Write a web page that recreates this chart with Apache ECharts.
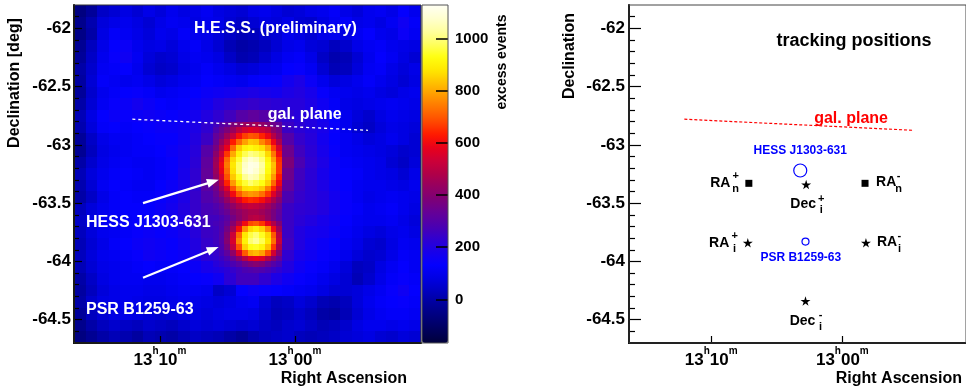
<!DOCTYPE html>
<html><head><meta charset="utf-8">
<script src="https://cdn.jsdelivr.net/npm/echarts@6/dist/echarts.min.js"></script>
<style>html,body{margin:0;padding:0;background:#fff}#c{width:966px;height:390px}</style>
</head><body><div id="c"></div>
<script>
// Right ascension is expressed in minutes relative to 13h00m (larger = further east / left)
const raEdges = [16.37, 15.51, 14.66, 13.80, 12.94, 12.09, 11.23, 10.37, 9.52, 8.66, 7.80, 6.95, 6.09, 5.23, 4.38, 3.52, 2.66, 1.81, 0.95, 0.09, -0.76, -1.62, -2.48, -3.33, -4.19, -5.05, -5.90, -6.76, -7.62, -8.47, -9.33];
const decEdges = [-61.8, -61.9, -62.0, -62.1, -62.2, -62.3, -62.4, -62.5, -62.6, -62.7, -62.8, -62.9, -63.0, -63.1, -63.2, -63.3, -63.4, -63.5, -63.6, -63.7, -63.8, -63.9, -64.0, -64.1, -64.2, -64.3, -64.4, -64.5, -64.6, -64.7];
// excess events per coarse cell, rows from top (north) to bottom, columns from left (east) to right
const excess = [
[-60,-20,40,60,80,60,90,70,100,80,90,110,80,70,60,90,100,80,60,70,90,100,120,90,70,100,110,90,130,100],
[-40,10,70,90,100,80,60,90,110,100,80,100,90,60,40,60,80,70,90,60,50,80,110,120,90,100,80,110,160,120],
[-50,0,80,120,110,90,70,100,90,120,100,90,70,40,20,30,50,60,100,80,60,90,100,80,110,130,100,90,150,110],
[-30,30,90,130,150,100,80,90,70,100,120,90,60,20,0,10,30,60,90,100,70,60,30,50,90,110,120,100,90,80],
[-20,40,100,140,160,110,70,50,60,90,110,100,80,40,10,20,50,80,110,120,90,40,10,20,60,100,130,110,80,60],
[0,50,110,120,130,100,60,40,50,80,100,120,100,80,60,70,90,100,130,140,110,60,20,30,70,110,120,90,70,90],
[-10,60,120,110,100,110,90,70,80,100,110,130,120,110,100,120,130,140,170,190,150,100,70,80,100,120,100,80,60,80],
[-20,50,100,120,130,140,120,100,110,120,130,150,160,170,180,190,180,170,190,200,180,140,110,100,90,100,80,70,90,100],
[0,60,110,140,150,170,150,130,120,130,150,170,200,220,230,240,230,220,210,210,190,160,120,90,80,90,100,110,100,90],
[20,80,130,150,140,150,160,150,140,150,170,200,230,260,300,320,300,260,230,210,200,170,130,100,70,50,80,100,90,80],
[10,70,120,130,120,130,140,150,150,160,190,230,280,400,480,500,460,350,250,220,200,180,140,100,60,40,70,90,80,70],
[-20,40,90,110,110,120,130,140,140,160,200,250,300,500,650,700,620,450,300,240,210,170,130,110,90,70,80,100,80,60],
[-30,30,80,100,110,120,120,130,150,170,210,300,450,750,900,950,880,600,350,260,220,180,140,110,100,90,80,70,50,60],
[0,50,90,110,120,110,110,120,140,170,220,320,520,850,1050,1080,950,650,380,280,230,190,150,120,110,100,90,60,40,70],
[20,70,100,120,130,120,110,120,140,180,230,330,550,880,1100,1050,900,600,350,260,220,180,150,130,120,100,90,80,60,90],
[10,60,110,130,120,110,110,130,150,180,230,310,450,750,900,880,720,500,320,250,220,190,160,130,110,100,100,90,80,100],
[0,40,90,120,130,120,120,140,160,190,240,290,350,500,620,600,500,380,280,240,220,200,170,140,110,90,100,110,100,90],
[30,70,100,120,130,130,130,150,170,200,240,270,280,380,430,450,400,300,250,230,220,200,170,140,120,100,110,120,100,80],
[40,80,110,110,120,130,140,150,160,190,230,260,300,420,520,560,480,320,250,220,200,180,160,130,110,100,100,110,90,70],
[30,70,100,110,120,140,150,140,150,170,210,250,300,500,800,900,780,400,250,200,180,170,150,120,100,80,70,90,100,80],
[20,60,90,120,130,150,160,150,140,160,200,240,320,550,900,1000,850,430,260,200,170,150,130,110,90,60,50,80,110,100],
[30,70,100,110,120,140,160,150,140,150,180,220,280,420,650,720,600,350,230,180,160,140,120,100,70,50,60,90,120,110],
[20,60,90,100,110,120,130,120,120,130,150,180,220,300,380,400,350,260,200,160,140,120,100,70,30,40,80,110,130,110],
[0,40,80,100,110,110,100,100,110,120,130,140,160,220,260,260,230,190,160,140,120,100,80,60,20,50,90,120,140,120],
[-10,30,70,90,100,100,90,90,100,110,110,100,40,60,130,150,140,130,120,110,100,80,60,60,70,90,110,140,160,130],
[0,50,80,90,100,90,80,80,90,100,90,80,70,80,100,110,60,30,40,70,50,20,10,30,70,100,120,130,140,120],
[-20,30,60,80,90,80,70,60,70,80,80,70,80,90,90,80,50,20,30,50,30,0,-10,20,60,90,110,120,120,110],
[-40,0,30,50,40,30,50,40,30,50,70,60,70,60,50,60,40,30,50,60,40,20,30,50,80,100,100,90,100,90],
[-60,-30,0,20,10,-10,20,10,0,20,40,30,20,0,-20,10,30,40,50,30,20,30,40,60,70,80,60,50,70,60]
];
// finer bins over the two sources
const fineRaEdges = [6.09, 5.66, 5.23, 4.80, 4.38, 3.95, 3.52, 3.09, 2.66, 2.24, 1.81, 1.38, 0.95];
const fineDecEdges = [-62.80, -62.85, -62.90, -62.95, -63.00, -63.05, -63.10, -63.15, -63.20, -63.25, -63.30, -63.35, -63.40, -63.45, -63.50, -63.55, -63.60, -63.65, -63.70, -63.75, -63.80, -63.85, -63.90, -63.95, -64.00, -64.05, -64.10];
const fineExcess = [
[260,300,320,380,400,440,430,460,420,390,350,330],
[290,340,380,440,500,540,570,550,520,490,410,370],
[330,370,450,520,610,670,700,690,640,590,490,410],
[340,430,510,630,720,790,840,830,760,700,590,470],
[370,480,580,720,840,900,920,900,870,800,670,550],
[410,520,660,800,900,970,1010,990,960,860,740,600],
[440,570,720,860,950,1040,1080,1060,1000,910,790,650],
[450,590,740,880,980,1070,1110,1100,1030,930,830,660],
[440,580,720,870,980,1080,1110,1080,1020,920,820,660],
[420,540,690,840,940,1020,1060,1040,980,890,780,630],
[390,500,640,780,880,950,990,960,930,850,720,590],
[360,460,560,690,800,870,880,870,840,750,640,520],
[340,410,490,600,700,760,780,770,730,660,560,460],
[320,360,430,500,570,630,650,640,610,550,470,400],
[290,320,370,420,470,500,520,510,490,450,400,350],
[280,310,340,390,420,450,470,470,450,420,370,330],
[260,280,310,360,410,450,490,500,480,430,370,320],
[270,290,330,400,490,600,680,700,660,580,480,390],
[260,290,360,460,610,770,860,890,850,760,600,450],
[260,300,390,530,720,880,960,990,940,860,700,500],
[260,300,400,550,760,900,990,1020,970,880,730,520],
[250,290,370,510,690,850,930,940,910,830,660,470],
[240,270,320,420,560,700,800,820,790,690,540,400],
[230,250,280,340,410,490,560,580,560,480,400,330],
[210,230,250,280,310,350,380,400,380,340,300,270],
[190,200,220,240,260,280,290,300,290,270,250,230]
];
const colorTicks = [0, 200, 400, 600, 800, 1000];
const raTicks = [10, 0];
const raTickHour = ['13', '13'];
const raTickMin = ['10', '00'];
const decTicks = [-62, -62.5, -63, -63.5, -64, -64.5];
const decMinorTicks = [-61.9, -62.1, -62.2, -62.3, -62.4, -62.6, -62.7, -62.8, -62.9, -63.1, -63.2, -63.3, -63.4, -63.6, -63.7, -63.8, -63.9, -64.1, -64.2, -64.3, -64.4, -64.6];
const galPlaneRA = [12.05, -5.4];
const galPlaneDec = [-62.78, -62.875];
const galLabelLeft = [2.02, -62.74];
const galLabelRight = [2.15, -62.775];
const sourceNames = ['HESS J1303-631', 'PSR B1259-63'];
const sourceRA = [3.21, 2.81];
const sourceDec = [-63.22, -63.83];
const sourceLabelRA = [15.48, 15.48];
const sourceLabelDec = [-63.67, -64.41];
const arrowTailRA = [11.26, 11.26];
const arrowTailDec = [-63.50, -64.14];
const arrowHeadRA = [6.07, 6.07];
const arrowHeadDec = [-63.315, -63.895];
const trackMain = ['RA', 'RA', 'Dec', 'RA', 'RA', 'Dec'];
const trackSup = ['+', '-', '+', '+', '-', '-'];
const trackSub = ['n', 'n', 'i', 'i', 'i', 'i'];
const trackRA = [7.13, -1.73, 2.76, 7.21, -1.80, 2.81];
const trackDec = [-63.33, -63.33, -63.34, -63.84, -63.84, -64.34];
const trackKind = ['nominal', 'nominal', 'image', 'image', 'image', 'image'];

const FONT = '"Liberation Sans", Arial, Helvetica, sans-serif';
const palette = ['#00003a','#00005c','#00007c','#00009a','#0000c0','#0000e4','#0400ff','#1800ea','#3000d0','#4c00b0','#640098','#7c0078','#940062','#b00048','#cc0038','#e8001c','#ff1800','#ff4800','#ff7000','#ff9800','#ffc000','#ffe800','#ffff10','#ffff60','#ffffa0','#ffffd0','#fffff4'];
const STAR = 'path://M50,0 L61,35 L98,35 L68,57 L79,91 L50,70 L21,91 L32,57 L2,35 L39,35 Z';

const heatData = [];
function addCells(rows, xe, ye) {
  for (let i = 0; i < rows.length; i++) {
    for (let j = 0; j < rows[i].length; j++) {
      heatData.push([xe[j], xe[j + 1], ye[i], ye[i + 1], rows[i][j]]);
    }
  }
}
addCells(excess, raEdges, decEdges);
addCells(fineExcess, fineRaEdges, fineDecEdges);

function xAxisFor(gi, min, max) {
  return {
    gridIndex: gi, type: 'value', position: 'bottom', min: min, max: max, inverse: true, z: 8,
    axisLine: { show: true, onZero: false, lineStyle: { color: '#000', width: 2 } },
    axisTick: { show: true, inside: true, length: 7, customValues: raTicks, lineStyle: { color: '#000', width: 1.2 } },
    axisLabel: {
      customValues: raTicks, margin: 3,
      formatter: function (v) {
        const k = raTicks.indexOf(Math.round(v));
        if (k < 0) return '';
        return '{n|' + raTickHour[k] + '}{s|h}{n|' + raTickMin[k] + '}{s|m}';
      },
      rich: {
        n: { fontSize: 17, fontWeight: 'bold', fontFamily: FONT, color: '#000', lineHeight: 28, verticalAlign: 'middle' },
        s: { fontSize: 10, fontWeight: 'bold', fontFamily: FONT, color: '#000', lineHeight: 12, verticalAlign: 'top' }
      }
    },
    splitLine: { show: false }
  };
}
function yAxisFor(gi, tickLen, margin) {
  return {
    gridIndex: gi, type: 'value', position: 'left', min: -64.7, max: -61.8, z: 8,
    axisLine: { show: true, onZero: false, lineStyle: { color: '#000', width: 2 } },
    axisTick: { show: true, inside: true, length: tickLen, customValues: decTicks, lineStyle: { color: '#000', width: 1.2 } },
    axisLabel: { customValues: decTicks, margin: margin, fontSize: 17, fontWeight: 'bold', fontFamily: FONT, color: '#000', formatter: function (v) { return String(v); } },
    splitLine: { show: false }
  };
}
function yMinorFor(gi, tickLen) {
  return {
    gridIndex: gi, type: 'value', position: 'left', min: -64.7, max: -61.8, z: 8,
    axisLine: { show: false, onZero: false },
    axisTick: { show: true, inside: true, length: tickLen, customValues: decMinorTicks, lineStyle: { color: '#000', width: 1.2 } },
    axisLabel: { show: false },
    splitLine: { show: false }
  };
}

// tracking-position text pieces
const trackTextData = [];
for (let k = 0; k < trackMain.length; k++) {
  const isDec = trackMain[k] === 'Dec';
  const leftSide = !isDec && trackSup[k] === '+';
  const mainOff = isDec ? [-3, 20] : (leftSide ? [-18.5, 0] : [11, -1]);
  const mainAlign = isDec ? 'center' : (leftSide ? 'right' : 'left');
  const sx = isDec ? 15 : (leftSide ? -13.2 : 33.5);
  const supY = isDec ? 14 : -7;
  const subY = isDec ? 25.5 : 6;
  const base = [trackRA[k], trackDec[k]];
  trackTextData.push({ value: base, label: { formatter: trackMain[k], align: mainAlign, offset: mainOff, fontSize: 14 } });
  trackTextData.push({ value: base, label: { formatter: trackSup[k], align: 'center', offset: [sx, supY], fontSize: 11 } });
  trackTextData.push({ value: base, label: { formatter: trackSub[k], align: 'center', offset: [sx, subY], fontSize: 11 } });
}

const chart = echarts.init(document.getElementById('c'), null, { renderer: 'canvas' });
chart.setOption({
  animation: false,
  backgroundColor: '#fff',
  grid: [
    { left: 74, top: 5, width: 347, height: 338, show: true, z: 9, borderColor: '#333', borderWidth: 1, backgroundColor: 'transparent' },
    { left: 629, top: 5, width: 347, height: 338, show: true, z: 9, borderColor: '#444', borderWidth: 1, backgroundColor: 'transparent' },
    { left: 422, top: 5, width: 26, height: 338, show: true, z: 9, borderColor: '#555', borderWidth: 1, backgroundColor: 'transparent' },
    { left: 74, top: 5, width: 347, height: 338, show: false },
    { left: 629, top: 5, width: 347, height: 338, show: false }
  ],
  xAxis: [
    xAxisFor(0, -9.33, 16.37),
    xAxisFor(1, -9.43, 16.27),
    { gridIndex: 2, type: 'value', min: 0, max: 1, show: false },
    { gridIndex: 3, type: 'value', min: 0, max: 1, show: false },
    { gridIndex: 4, type: 'value', min: 0, max: 1, show: false }
  ],
  yAxis: [
    yAxisFor(0, 8, 3),
    yAxisFor(1, 12, 4),
    {
      gridIndex: 2, type: 'value', position: 'right', min: -167, max: 1128, z: 8,
      axisLine: { show: false, onZero: false },
      axisTick: { show: true, inside: true, length: 12, customValues: colorTicks, lineStyle: { color: '#000', width: 1.5 } },
      axisLabel: { customValues: colorTicks, margin: 7, fontSize: 15, fontWeight: 'bold', fontFamily: FONT, color: '#000', formatter: function (v) { return String(v); } },
      splitLine: { show: false }
    },
    yMinorFor(3, 5),
    yMinorFor(4, 6)
  ],
  visualMap: {
    type: 'continuous', min: -167, max: 1128, dimension: 4, seriesIndex: 0,
    inRange: { color: palette }, calculable: false, show: true,
    left: 422, top: 5, itemWidth: 26, itemHeight: 338, padding: 0, text: null, hoverLink: false
  },
  graphic: [
    { type: 'text', x: 194, y: 29, silent: true, z: 100, style: { text: 'H.E.S.S. (preliminary)', fill: '#fff', font: 'bold 16px ' + FONT, align: 'left', verticalAlign: 'middle' } },
    { type: 'text', x: 15, y: 83, rotation: Math.PI / 2, silent: true, style: { text: 'Declination [deg]', fill: '#000', font: 'bold 16px ' + FONT, align: 'center', verticalAlign: 'middle' } },
    { type: 'text', x: 570, y: 56, rotation: Math.PI / 2, silent: true, style: { text: 'Declination', fill: '#000', font: 'bold 16px ' + FONT, align: 'center', verticalAlign: 'middle' } },
    { type: 'text', x: 502.5, y: 62, rotation: Math.PI / 2, silent: true, style: { text: 'excess events', fill: '#000', font: 'bold 14px ' + FONT, align: 'center', verticalAlign: 'middle' } },
    { type: 'text', x: 407, y: 379, silent: true, style: { text: 'Right Ascension', fill: '#000', font: 'bold 16px ' + FONT, align: 'right', verticalAlign: 'middle' } },
    { type: 'text', x: 962, y: 379, silent: true, style: { text: 'Right Ascension', fill: '#000', font: 'bold 16px ' + FONT, align: 'right', verticalAlign: 'middle' } },
    { type: 'text', x: 854, y: 41, silent: true, style: { text: 'tracking positions', fill: '#000', font: 'bold 18px ' + FONT, align: 'center', verticalAlign: 'middle' } }
  ],
  series: [
    {
      type: 'custom', xAxisIndex: 0, yAxisIndex: 0, data: heatData, encode: { x: [0, 1], y: [2, 3] }, silent: true,
      renderItem: function (params, api) {
        const p0 = api.coord([api.value(0), api.value(2)]);
        const p1 = api.coord([api.value(1), api.value(3)]);
        const x0 = Math.round(Math.min(p0[0], p1[0])), x1 = Math.round(Math.max(p0[0], p1[0]));
        const y0 = Math.round(Math.min(p0[1], p1[1])), y1 = Math.round(Math.max(p0[1], p1[1]));
        return {
          type: 'rect',
          shape: { x: x0, y: y0, width: x1 - x0, height: y1 - y0 },
          style: { fill: api.visual('color') }
        };
      }
    },
    {
      type: 'line', xAxisIndex: 0, yAxisIndex: 0, symbol: 'none', silent: true, z: 5,
      data: galPlaneRA.map(function (r, k) { return [r, galPlaneDec[k]]; }),
      lineStyle: { color: '#fff', width: 1.3, type: [3, 3] },
      markLine: {
        silent: true, symbol: ['none', 'triangle'], symbolSize: [9, 12],
        itemStyle: { color: '#fff' },
        lineStyle: { color: '#fff', width: 2.2, type: 'solid' }, label: { show: false },
        data: arrowTailRA.map(function (r, k) { return [{ coord: [r, arrowTailDec[k]] }, { coord: [arrowHeadRA[k], arrowHeadDec[k]] }]; })
      }
    },
    {
      type: 'scatter', xAxisIndex: 0, yAxisIndex: 0, symbolSize: 0, silent: true, z: 6,
      itemStyle: { opacity: 1 },
      data: sourceNames.map(function (n, k) { return { value: [sourceLabelRA[k], sourceLabelDec[k]], name: n }; })
        .concat([{ value: galLabelLeft, name: 'gal. plane' }]),
      label: { show: true, position: 'inside', align: 'left', verticalAlign: 'middle', formatter: '{b}', color: '#fff', opacity: 1, fontSize: 16, fontWeight: 'bold', fontFamily: FONT }
    },
    {
      type: 'line', xAxisIndex: 1, yAxisIndex: 1, symbol: 'none', silent: true,
      data: galPlaneRA.map(function (r, k) { return [r, galPlaneDec[k]]; }),
      lineStyle: { color: '#ff0000', width: 1.2, type: [3, 2] }
    },
    {
      type: 'scatter', xAxisIndex: 1, yAxisIndex: 1, silent: true,
      data: sourceNames.map(function (n, k) {
        return { value: [sourceRA[k], sourceDec[k]], name: n, symbolSize: k === 0 ? 13 : 7,
          label: { offset: k === 0 ? [0, -20] : [-4.7, 16] } };
      }),
      symbol: 'circle',
      itemStyle: { color: 'rgba(0,0,0,0)', borderColor: '#0000ff', borderWidth: 1.2, opacity: 1 },
      label: { show: true, position: 'inside', align: 'center', verticalAlign: 'middle', formatter: '{b}', color: '#0000ff', opacity: 1, fontSize: 12, fontWeight: 'bold', fontFamily: FONT }
    },
    {
      type: 'scatter', xAxisIndex: 1, yAxisIndex: 1, silent: true,
      data: trackRA.map(function (r, k) {
        return { value: [r, trackDec[k]], symbol: trackKind[k] === 'nominal' ? 'rect' : STAR, symbolSize: trackKind[k] === 'nominal' ? 7 : 10 };
      }),
      symbolKeepAspect: true,
      itemStyle: { color: '#000', opacity: 1 }
    },
    {
      type: 'scatter', xAxisIndex: 1, yAxisIndex: 1, symbolSize: 0, silent: true,
      itemStyle: { opacity: 1 },
      data: trackTextData,
      label: { show: true, position: 'inside', verticalAlign: 'middle', color: '#000', opacity: 1, fontWeight: 'bold', fontFamily: FONT }
    },
    {
      type: 'scatter', xAxisIndex: 1, yAxisIndex: 1, symbolSize: 0, silent: true,
      itemStyle: { opacity: 1 },
      data: [{ value: galLabelRight, name: 'gal. plane' }],
      label: { show: true, position: 'inside', align: 'left', verticalAlign: 'middle', formatter: '{b}', color: '#ff0000', opacity: 1, fontSize: 16, fontWeight: 'bold', fontFamily: FONT }
    }
  ]
});
</script></body></html>
